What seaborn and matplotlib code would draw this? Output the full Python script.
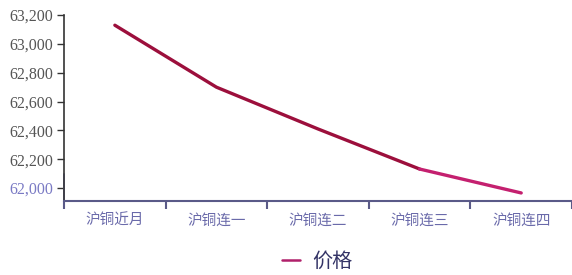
import matplotlib
matplotlib.use("Agg")
import matplotlib.pyplot as plt
import seaborn as sns
import pandas as pd

# data
contracts = ["沪铜近月", "沪铜连一", "沪铜连二", "沪铜连三", "沪铜连四"]
prices = [63130, 62700, 62410, 62132, 61966]
y_ticks = [62000, 62200, 62400, 62600, 62800, 63000, 63200]

df = pd.DataFrame({"x": range(len(contracts)), "price": prices})

sns.set_theme(style="white")
plt.rcParams["font.family"] = ["Liberation Serif", "Noto Sans CJK SC", "DejaVu Sans"]

fig = plt.figure(figsize=(5.72, 2.75), dpi=100)
ax = fig.add_axes([0.112, 0.269, 0.888, 0.676])

# main line, last segment in a lighter magenta
sns.lineplot(data=df.iloc[:4], x="x", y="price", ax=ax, color="#9c0f3c",
             linewidth=2.4, legend=False)
sns.lineplot(data=df.iloc[3:], x="x", y="price", ax=ax, color="#c4206f",
             linewidth=2.4, legend=False)

ax.set_xlim(-0.5, len(contracts) - 0.5)
ax.set_ylim(61910, 63200)

ax.set_yticks(y_ticks)
ax.set_yticklabels([f"{v:,}" for v in y_ticks], fontsize=11.5, color="#555555")
ax.get_yticklabels()[0].set_color("#7a7ac4")
ax.tick_params(axis="y", length=5, width=1, color="#333333", left=True, pad=3)

# category ticks at the band edges, labels at centres
ax.set_xticks([i - 0.5 for i in range(len(contracts) + 1)])
ax.set_xticklabels([])
ax.set_xticks(range(len(contracts)), minor=True)
ax.set_xticklabels(contracts, minor=True, fontsize=10.5, color="#6a6aaa",
                   family=["Noto Sans CJK SC"])
ax.tick_params(axis="x", which="major", length=6, width=1.5, color="#5a5a88", bottom=True)
ax.tick_params(axis="x", which="minor", length=0, pad=9)

ax.set_xlabel("")
ax.set_ylabel("")
for s in ["top", "right"]:
    ax.spines[s].set_visible(False)
ax.spines["left"].set_color("#333333")
ax.spines["left"].set_linewidth(1.2)
ax.spines["bottom"].set_color("#5a5a88")
ax.spines["bottom"].set_linewidth(1.5)
ax.axvline(-0.5, ymin=0, ymax=0.145, color="#8080c0", linewidth=1.3, clip_on=False)

fig.legend(handles=[plt.Line2D([], [], color="#b0206a", linewidth=1.8)],
           labels=["价格"], loc="center", bbox_to_anchor=(0.555, 0.05),
           frameon=False, handlelength=0.9, handletextpad=0.6,
           prop={"family": ["Noto Sans CJK SC"], "size": 14.5},
           labelcolor="#333366")

fig.savefig("out.png", dpi=100)
